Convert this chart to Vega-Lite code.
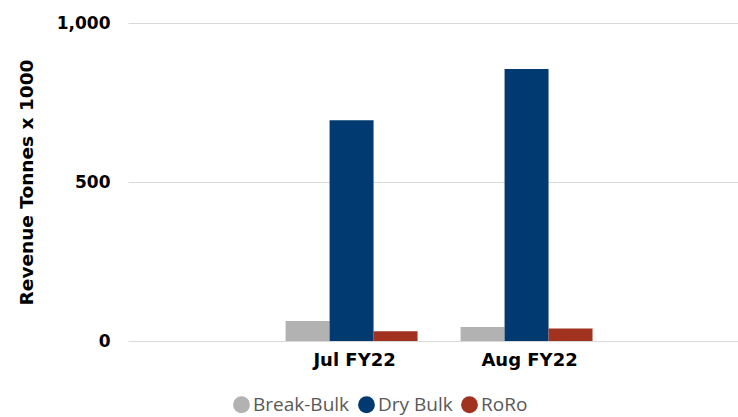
{
  "$schema": "https://vega.github.io/schema/vega-lite/v6.json",
  "autosize": {"type": "none"},
  "padding": {"left": 128, "top": 23, "right": 0, "bottom": 76},
  "width": 610,
  "height": 318,
  "background": "white",
  "data": {
    "values": [
      {"month": "Jul FY22", "segment": "Break-Bulk", "value": 63},
      {"month": "Jul FY22", "segment": "Dry Bulk", "value": 694},
      {"month": "Jul FY22", "segment": "RoRo", "value": 31},
      {"month": "Aug FY22", "segment": "Break-Bulk", "value": 44},
      {"month": "Aug FY22", "segment": "Dry Bulk", "value": 855},
      {"month": "Aug FY22", "segment": "RoRo", "value": 39}
    ]
  },
  "mark": {"type": "bar"},
  "encoding": {
    "x": {
      "field": "month",
      "type": "nominal",
      "sort": ["Jul FY22", "Aug FY22"],
      "scale": {"paddingInner": 0.246, "paddingOuter": 0.866, "align": 0.52},
      "axis": {
        "title": null,
        "labelAngle": 0,
        "labelFont": "DejaVu Sans",
        "labelFontWeight": "bold",
        "labelFontSize": 18,
        "labelColor": "#000000",
        "labelPadding": 10,
        "labelOffset": 3,
        "ticks": false,
        "domain": false
      }
    },
    "xOffset": {
      "field": "segment",
      "type": "nominal",
      "sort": ["Break-Bulk", "Dry Bulk", "RoRo"],
      "scale": {"paddingInner": 0, "paddingOuter": 0}
    },
    "y": {
      "field": "value",
      "type": "quantitative",
      "scale": {"domain": [0, 1000]},
      "axis": {
        "title": "Revenue Tonnes x 1000",
        "titleFont": "DejaVu Sans",
        "titleFontWeight": "bold",
        "titleFontSize": 18.5,
        "titleColor": "#000000",
        "titlePadding": 20,
        "values": [0, 500, 1000],
        "format": ",d",
        "labelFont": "DejaVu Sans",
        "labelFontWeight": "bold",
        "labelFontSize": 17,
        "labelColor": "#000000",
        "labelPadding": 18,
        "ticks": false,
        "domain": false,
        "grid": true,
        "gridColor": "#d9d9d9",
        "gridWidth": 1
      }
    },
    "color": {
      "field": "segment",
      "type": "nominal",
      "sort": ["Break-Bulk", "Dry Bulk", "RoRo"],
      "scale": {
        "domain": ["Break-Bulk", "Dry Bulk", "RoRo"],
        "range": ["#b2b2b2", "#003a70", "#a0321f"]
      },
      "legend": {
        "title": null,
        "orient": "none",
        "direction": "horizontal",
        "legendX": 104,
        "legendY": 372,
        "symbolType": "circle",
        "symbolSize": 283,
        "symbolStrokeWidth": 0,
        "labelFont": "Open Sans",
        "labelFontSize": 19,
        "labelColor": "#595959",
        "labelOffset": 2,
        "columnPadding": 7
      }
    }
  },
  "config": {
    "view": {"stroke": null}
  }
}
